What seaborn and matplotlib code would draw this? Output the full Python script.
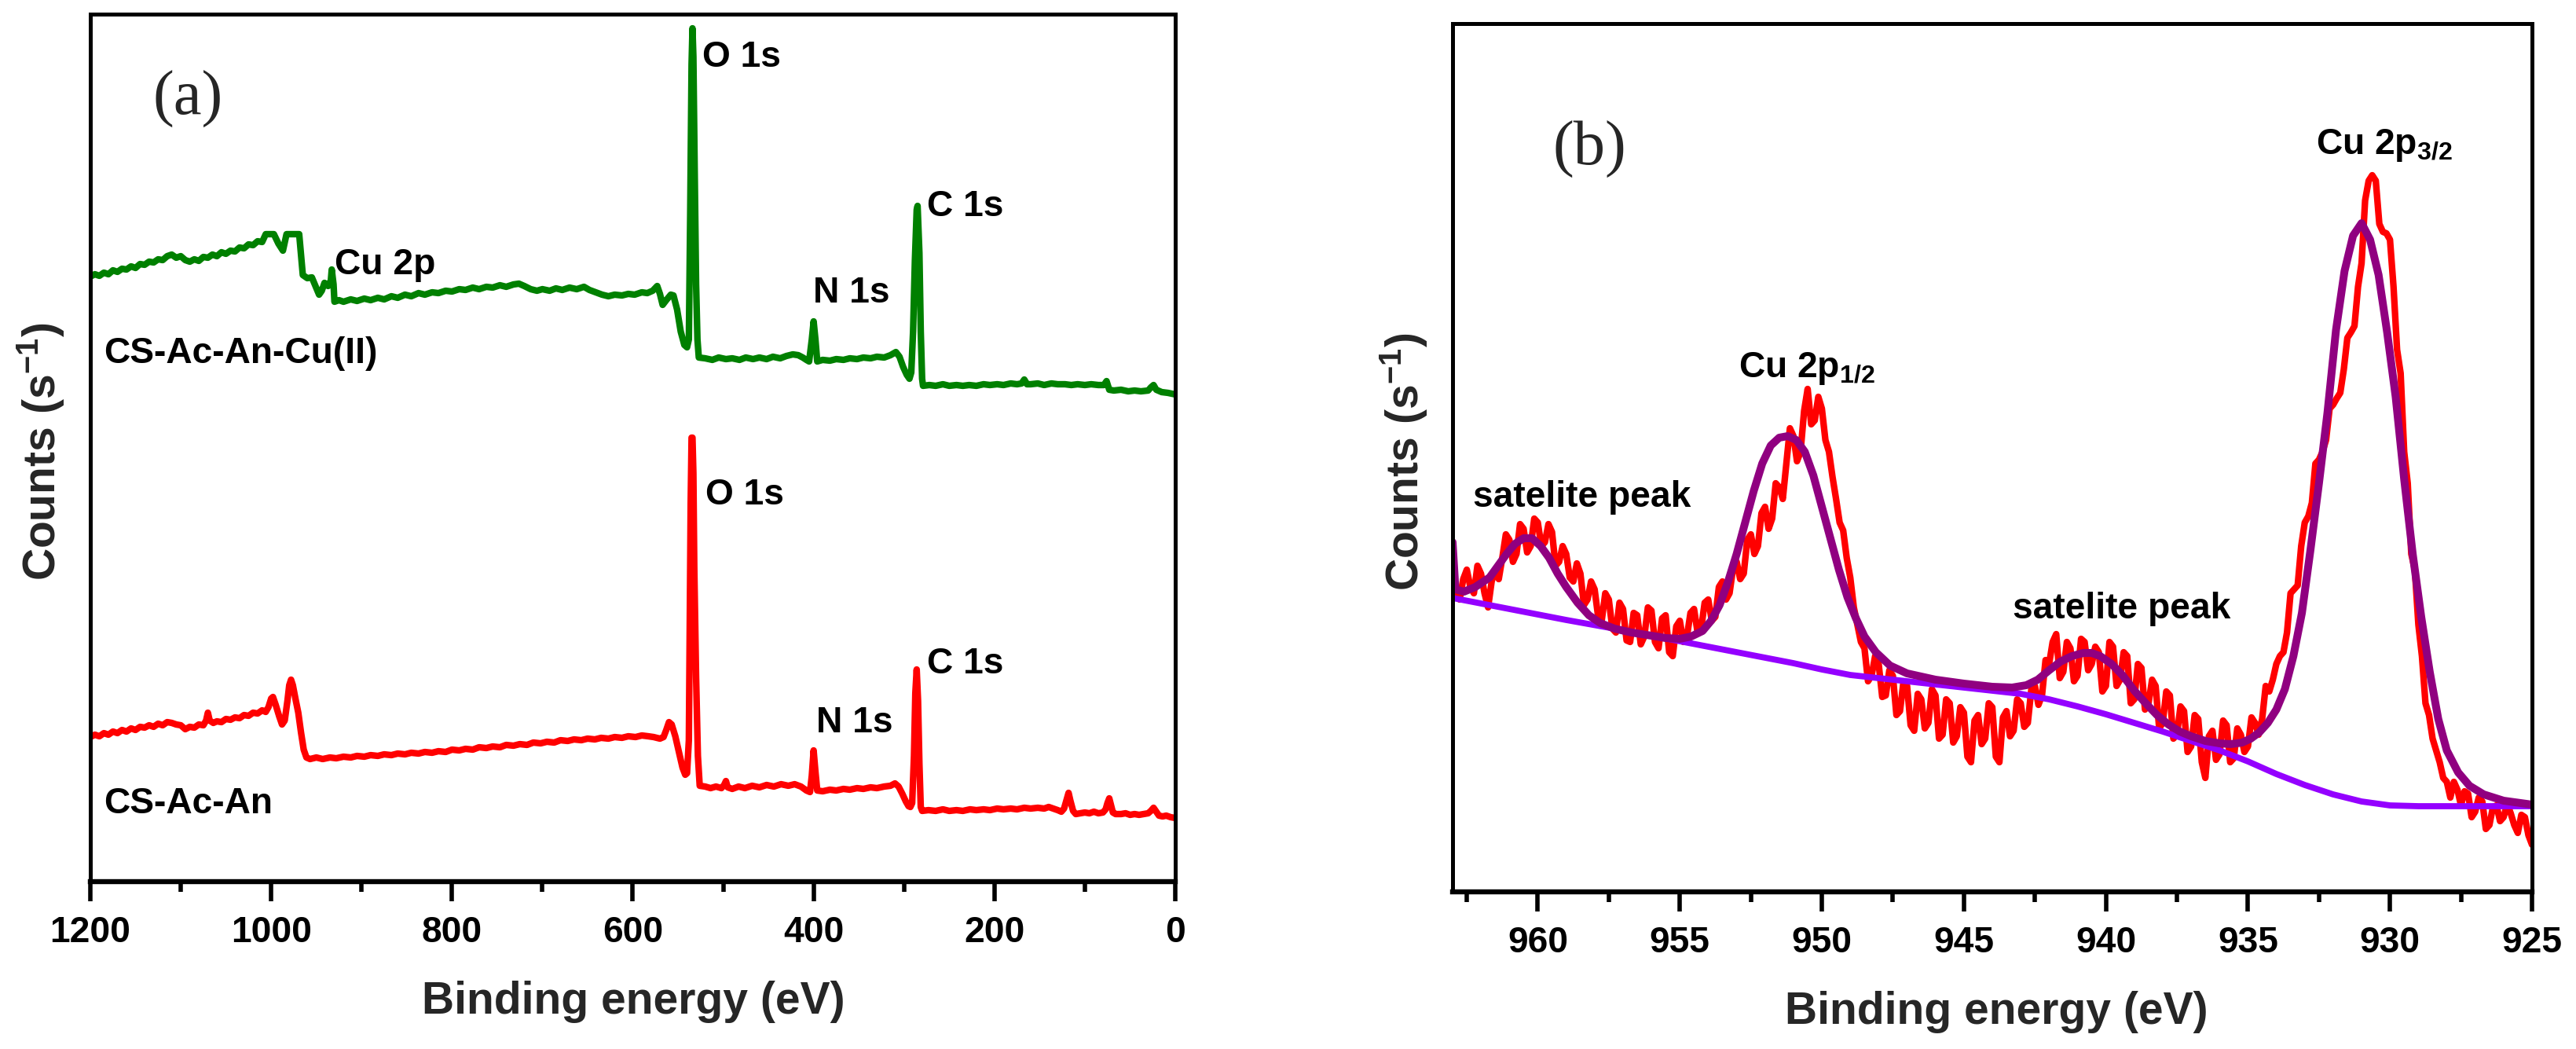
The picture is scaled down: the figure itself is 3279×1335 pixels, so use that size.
import matplotlib
matplotlib.use("Agg")
import matplotlib.pyplot as plt
import seaborn as sns
import pandas as pd
from matplotlib.ticker import FixedLocator, MultipleLocator

# ---------------- data ----------------
# Panel (a): survey spectra, (binding energy eV, counts in arbitrary units)
survey_cu = [
    (1200, 770), (1195, 773), (1190, 771), (1185, 775), (1180, 773), (1175, 778), (1170, 776), (1165, 780),
    (1160, 779), (1155, 783), (1150, 781), (1145, 786), (1140, 785), (1135, 789), (1130, 788), (1125, 792),
    (1120, 791), (1115, 796), (1110, 798), (1105, 794), (1100, 796), (1095, 791), (1090, 789), (1085, 792),
    (1080, 790), (1075, 795), (1070, 794), (1065, 798), (1060, 796), (1055, 801), (1050, 799), (1045, 803),
    (1040, 802), (1035, 807), (1030, 806), (1025, 811), (1020, 810), (1015, 815), (1010, 814), (1006, 824),
    (997, 824), (992, 812), (987, 803), (983, 824), (969, 824), (965, 772), (960, 768), (955, 769),
    (951, 758), (947, 747), (944, 752), (941, 762), (937, 758), (934, 765), (933, 779), (931, 760),
    (930, 738), (925, 740), (920, 738), (912, 741), (905, 739), (897, 742), (890, 740), (882, 743),
    (875, 741), (867, 745), (860, 743), (852, 747), (845, 745), (837, 749), (830, 747), (822, 750),
    (815, 749), (807, 752), (800, 751), (792, 754), (785, 753), (777, 756), (770, 754), (762, 757),
    (755, 756), (747, 759), (740, 757), (732, 760), (726, 761), (720, 758), (713, 754), (706, 752),
    (700, 754), (692, 752), (685, 755), (678, 753), (670, 756), (662, 754), (654, 757), (648, 753),
    (641, 750), (634, 747), (627, 745), (620, 747), (612, 746), (605, 748), (598, 747), (590, 750),
    (584, 749), (578, 752), (573, 758), (570, 748), (567, 734), (563, 740), (558, 747), (555, 746),
    (551, 728), (547, 700), (543, 683), (540, 680), (538, 690), (536.5, 850), (535, 1040), (534, 1086),
    (533, 1050), (531.5, 900), (530, 760), (528.5, 690), (527, 667), (520, 666), (512, 664), (505, 667),
    (497, 665), (490, 666), (482, 664), (475, 667), (467, 665), (460, 667), (452, 665), (445, 668),
    (437, 666), (430, 669), (423, 671), (417, 670), (412, 667), (408, 664), (405, 662), (402, 690),
    (400, 713), (398, 690), (396, 662), (390, 664), (382, 663), (375, 665), (367, 664), (360, 666),
    (352, 665), (345, 667), (337, 666), (330, 668), (322, 667), (315, 670), (309, 674), (305, 668),
    (301, 655), (297, 645), (294, 640), (292, 648), (290, 700), (288, 790), (286, 855), (285, 860),
    (283, 800), (281.5, 700), (280, 640), (279, 631), (272, 632), (265, 631), (257, 633), (250, 631),
    (242, 632), (235, 631), (228, 632), (220, 631), (212, 633), (205, 632), (197, 633), (190, 632),
    (182, 634), (175, 633), (170, 634), (167, 639), (164, 633), (160, 633), (152, 634), (145, 632),
    (137, 634), (130, 633), (122, 633), (115, 632), (108, 633), (100, 632), (93, 633), (85, 632),
    (79, 632), (76, 637), (73, 626), (68, 625), (60, 626), (52, 624), (45, 625), (38, 624),
    (30, 625), (27, 629), (24, 632), (21, 626), (15, 623), (8, 622), (0, 620),
]
survey_base = [
    (1200, 184), (1195, 187), (1190, 185), (1185, 189), (1180, 187), (1175, 191), (1170, 189), (1165, 193),
    (1160, 191), (1155, 195), (1150, 193), (1145, 197), (1140, 196), (1135, 199), (1130, 197), (1125, 201),
    (1120, 199), (1115, 203), (1110, 202), (1105, 200), (1100, 199), (1095, 194), (1090, 197), (1085, 196),
    (1080, 200), (1075, 199), (1072, 205), (1070, 215), (1068, 205), (1064, 202), (1060, 204), (1055, 203),
    (1050, 207), (1045, 206), (1040, 209), (1035, 208), (1030, 212), (1025, 211), (1020, 215), (1015, 214),
    (1010, 218), (1006, 216), (1003, 222), (1000, 233), (998, 235), (995, 225), (991, 210), (988, 200),
    (985, 205), (982, 230), (980, 250), (978, 257), (976, 250), (973, 232), (970, 215), (967, 190),
    (964, 168), (961, 158), (957, 156), (950, 158), (943, 156), (935, 158), (928, 157), (920, 159),
    (912, 158), (905, 160), (897, 159), (890, 161), (882, 160), (875, 162), (867, 161), (860, 163),
    (852, 162), (845, 164), (837, 163), (830, 165), (822, 164), (815, 166), (807, 165), (800, 168),
    (792, 167), (785, 169), (777, 168), (770, 171), (762, 170), (755, 172), (747, 171), (740, 174),
    (732, 173), (725, 175), (717, 174), (710, 177), (702, 176), (695, 178), (687, 177), (680, 180),
    (672, 179), (665, 181), (657, 180), (650, 182), (642, 181), (635, 183), (627, 182), (620, 184),
    (612, 183), (605, 185), (597, 184), (590, 186), (583, 185), (577, 184), (570, 182), (566, 184),
    (563, 193), (560, 203), (557, 200), (553, 185), (549, 165), (545, 145), (542, 136), (540, 138),
    (538, 180), (537, 330), (536, 480), (535, 565), (534, 565), (533, 520), (532, 400), (530, 260),
    (528, 160), (526, 122), (520, 121), (514, 119), (508, 121), (502, 119), (499, 123), (497, 128),
    (495, 120), (490, 118), (483, 121), (476, 119), (468, 122), (460, 120), (452, 123), (444, 121),
    (436, 124), (428, 122), (421, 124), (414, 121), (408, 116), (404, 114), (402, 135), (400, 167),
    (398, 140), (396, 116), (390, 115), (382, 117), (375, 116), (367, 118), (360, 117), (352, 119),
    (345, 118), (337, 120), (330, 119), (322, 121), (315, 122), (310, 125), (306, 121), (302, 112),
    (298, 102), (295, 96), (293, 95), (291, 100), (289, 160), (287.5, 240), (286, 270), (284.5, 230),
    (283, 150), (281.5, 95), (280, 90), (273, 91), (265, 90), (257, 92), (250, 90), (242, 91),
    (235, 90), (227, 92), (220, 91), (212, 92), (205, 91), (197, 93), (190, 92), (182, 93),
    (175, 92), (167, 94), (160, 93), (152, 94), (145, 93), (140, 95), (135, 93), (130, 91),
    (126, 89), (123, 93), (120, 105), (118, 113), (116, 103), (113, 90), (110, 86), (105, 87),
    (100, 88), (95, 87), (90, 89), (85, 87), (80, 88), (77, 92), (75, 100), (73, 106),
    (71, 97), (69, 88), (66, 86), (60, 86), (55, 87), (50, 85), (45, 86), (40, 85),
    (35, 86), (30, 87), (27, 90), (24, 94), (21, 89), (18, 84), (14, 83), (10, 84), (5, 82), (0, 81),
]

# Panel (b): Cu 2p high resolution, measured data, fit envelope and background
cu2p_data = [
    (963.0, 400), (962.875, 385), (962.75, 372), (962.625, 398), (962.5, 410), (962.375, 388),
    (962.25, 380), (962.125, 415), (962.0, 405), (961.875, 380), (961.75, 362), (961.625, 395),
    (961.5, 410), (961.375, 398), (961.25, 425), (961.125, 455), (961.0, 448), (960.875, 420),
    (960.75, 430), (960.625, 468), (960.5, 462), (960.375, 432), (960.25, 440), (960.125, 475),
    (960.0, 470), (959.875, 440), (959.75, 445), (959.625, 468), (959.5, 458), (959.375, 415),
    (959.25, 420), (959.125, 440), (959.0, 430), (958.875, 400), (958.75, 395), (958.625, 418),
    (958.5, 405), (958.375, 365), (958.25, 372), (958.125, 395), (958.0, 385), (957.875, 350),
    (957.75, 345), (957.625, 380), (957.5, 372), (957.375, 335), (957.25, 330), (957.125, 368),
    (957.0, 360), (956.875, 320), (956.75, 318), (956.625, 355), (956.5, 352), (956.375, 315),
    (956.25, 325), (956.125, 362), (956.0, 358), (955.875, 318), (955.75, 310), (955.625, 348),
    (955.5, 352), (955.375, 305), (955.25, 300), (955.125, 338), (955.0, 345), (954.875, 318),
    (954.75, 325), (954.625, 355), (954.5, 360), (954.375, 330), (954.25, 335), (954.125, 368),
    (954.0, 372), (953.875, 345), (953.75, 350), (953.625, 388), (953.5, 395), (953.375, 372),
    (953.25, 380), (953.125, 412), (953.0, 420), (952.875, 398), (952.75, 405), (952.625, 448),
    (952.5, 455), (952.375, 430), (952.25, 440), (952.125, 482), (952.0, 490), (951.875, 462),
    (951.75, 475), (951.625, 520), (951.5, 515), (951.375, 500), (951.25, 545), (951.125, 590),
    (951.0, 580), (950.875, 548), (950.75, 560), (950.625, 612), (950.5, 640), (950.375, 595),
    (950.25, 600), (950.125, 630), (950.0, 615), (949.875, 575), (949.75, 560), (949.625, 528),
    (949.5, 500), (949.375, 470), (949.25, 460), (949.125, 425), (949.0, 400), (948.875, 362),
    (948.75, 340), (948.625, 318), (948.5, 310), (948.375, 268), (948.25, 275), (948.125, 300),
    (948.0, 290), (947.875, 248), (947.75, 250), (947.625, 282), (947.5, 275), (947.375, 225),
    (947.25, 230), (947.125, 268), (947.0, 262), (946.875, 212), (946.75, 205), (946.625, 252),
    (946.5, 245), (946.375, 208), (946.25, 215), (946.125, 258), (946.0, 250), (945.875, 195),
    (945.75, 200), (945.625, 245), (945.5, 240), (945.375, 190), (945.25, 198), (945.125, 235),
    (945.0, 228), (944.875, 172), (944.75, 165), (944.625, 218), (944.5, 225), (944.375, 188),
    (944.25, 195), (944.125, 240), (944.0, 235), (943.875, 172), (943.75, 165), (943.625, 222),
    (943.5, 230), (943.375, 198), (943.25, 205), (943.125, 245), (943.0, 240), (942.875, 210),
    (942.75, 215), (942.625, 258), (942.5, 262), (942.375, 238), (942.25, 250), (942.125, 295),
    (942.0, 290), (941.875, 318), (941.75, 328), (941.625, 272), (941.5, 280), (941.375, 318),
    (941.25, 310), (941.125, 268), (941.0, 275), (940.875, 322), (940.75, 318), (940.625, 282),
    (940.5, 290), (940.375, 312), (940.25, 305), (940.125, 255), (940.0, 262), (939.875, 318),
    (939.75, 312), (939.625, 262), (939.5, 270), (939.375, 305), (939.25, 300), (939.125, 240),
    (939.0, 245), (938.875, 290), (938.75, 285), (938.625, 232), (938.5, 240), (938.375, 270),
    (938.25, 262), (938.125, 208), (938.0, 215), (937.875, 255), (937.75, 250), (937.625, 195),
    (937.5, 200), (937.375, 236), (937.25, 230), (937.125, 178), (937.0, 185), (936.875, 225),
    (936.75, 220), (936.625, 165), (936.5, 145), (936.375, 198), (936.25, 205), (936.125, 168),
    (936.0, 175), (935.875, 218), (935.75, 212), (935.625, 165), (935.5, 170), (935.375, 208),
    (935.25, 200), (935.125, 178), (935.0, 185), (934.875, 222), (934.75, 215), (934.625, 200),
    (934.5, 220), (934.375, 262), (934.25, 255), (934.125, 270), (934.0, 290), (933.875, 300),
    (933.75, 305), (933.625, 330), (933.5, 380), (933.375, 385), (933.25, 390), (933.125, 440),
    (933.0, 470), (932.875, 478), (932.75, 495), (932.625, 545), (932.5, 550), (932.375, 560),
    (932.25, 575), (932.125, 615), (932.0, 620), (931.875, 628), (931.75, 635), (931.625, 665),
    (931.5, 705), (931.375, 712), (931.25, 720), (931.125, 770), (931.0, 800), (930.875, 880),
    (930.75, 905), (930.625, 912), (930.5, 905), (930.375, 850), (930.25, 840), (930.125, 838),
    (930.0, 830), (929.875, 770), (929.75, 690), (929.625, 660), (929.5, 560), (929.375, 520),
    (929.25, 430), (929.125, 410), (929.0, 340), (928.875, 300), (928.75, 240), (928.625, 225),
    (928.5, 195), (928.375, 180), (928.25, 165), (928.125, 145), (928.0, 140), (927.875, 120),
    (927.75, 140), (927.625, 130), (927.5, 110), (927.375, 128), (927.25, 125), (927.125, 95),
    (927.0, 102), (926.875, 120), (926.75, 115), (926.625, 80), (926.5, 85), (926.375, 108),
    (926.25, 110), (926.125, 90), (926.0, 95), (925.875, 112), (925.75, 100), (925.625, 85),
    (925.5, 75), (925.375, 98), (925.25, 95), (925.125, 72), (925.0, 60),
]
cu2p_envelope = [
    (963.0, 445), (962.9, 385), (962.6, 382), (962.2, 388), (961.7, 400), (961.4, 415), (961.1, 430),
    (960.8, 443), (960.5, 450), (960.2, 450), (959.9, 440), (959.6, 425), (959.3, 405), (959.0, 388),
    (958.6, 368), (958.2, 352), (957.8, 342), (957.3, 335), (956.7, 330), (956.0, 326), (955.5, 323),
    (955.0, 322), (954.6, 325), (954.2, 332), (953.9, 345), (953.6, 365), (953.3, 395), (953.0, 430),
    (952.7, 470), (952.4, 510), (952.1, 545), (951.8, 568), (951.5, 578), (951.2, 580), (950.9, 575),
    (950.6, 560), (950.3, 530), (950.0, 490), (949.7, 450), (949.4, 410), (949.1, 375), (948.8, 348),
    (948.5, 325), (948.1, 305), (947.6, 288), (947.0, 278), (946.0, 270), (945.0, 265), (944.0, 261),
    (943.3, 260), (942.8, 263), (942.4, 270), (942.0, 282), (941.6, 293), (941.2, 300), (940.8, 304),
    (940.5, 304), (940.2, 300), (939.8, 290), (939.4, 275), (939.0, 256), (938.6, 240), (938.2, 225),
    (937.8, 213), (937.4, 204), (937.0, 198), (936.5, 192), (936.0, 189), (935.6, 188), (935.2, 190),
    (934.9, 195), (934.6, 203), (934.3, 215), (934.0, 232), (933.7, 258), (933.4, 300), (933.1, 355),
    (932.8, 435), (932.5, 520), (932.2, 610), (931.9, 715), (931.6, 790), (931.3, 835), (931.0, 851),
    (930.7, 830), (930.4, 785), (930.1, 712), (929.8, 630), (929.5, 525), (929.2, 430), (928.9, 350),
    (928.6, 280), (928.3, 220), (928.0, 180), (927.6, 152), (927.2, 135), (926.7, 124), (926.0, 116),
    (925.0, 111),
]
cu2p_background = [
    (963.0, 374), (961.0, 360), (959.0, 346), (957.0, 333), (955.0, 319), (953.0, 305), (951.0, 291),
    (950.0, 283), (949.0, 276), (948.0, 272), (947.0, 268), (946.0, 264), (945.0, 260), (944.0, 256),
    (943.0, 252), (942.0, 245), (941.0, 236), (940.0, 226), (939.0, 215), (938.0, 204), (937.0, 192),
    (936.0, 180), (935.0, 166), (934.0, 150), (933.0, 136), (932.0, 124), (931.0, 115), (930.0, 110),
    (929.0, 109), (925.0, 109),
]

survey_ticks = [1200, 1000, 800, 600, 400, 200, 0]
cu2p_ticks = [960, 955, 950, 945, 940, 935, 930, 925]
series_names = ["CS-Ac-An-Cu(II)", "CS-Ac-An"]


def frame(pts):
    return pd.DataFrame(pts, columns=["ev", "counts"])


# ---------------- style ----------------
sns.set_style("ticks")
plt.rcParams.update({
    "font.weight": "bold",
    "mathtext.fontset": "custom",
    "mathtext.rm": "Liberation Sans:bold",
    "mathtext.it": "Liberation Sans:bold",
    "mathtext.bf": "Liberation Sans:bold",
    "axes.unicode_minus": False,
})
plt.rcParams["font.family"] = ["Liberation Sans", "DejaVu Sans"]

W, H = 3280, 1335
DPI = 200
fig = plt.figure(figsize=(W / DPI, H / DPI), dpi=DPI)
fig.patch.set_facecolor("white")

axA = fig.add_axes([115 / W, 1 - 1122 / H, 1381 / W, 1104 / H])
axB = fig.add_axes([1849 / W, 1 - 1135 / H, 1374 / W, 1105 / H])

LBL = 16.6   # annotation / tick font size
AXL = 20.5   # axis title size

# ---- panel (a)
sns.lineplot(data=frame(survey_cu), x="ev", y="counts", ax=axA, color="#008000", lw=3.0,
             sort=False, estimator=None)
sns.lineplot(data=frame(survey_base), x="ev", y="counts", ax=axA, color="#FF0000", lw=3.0,
             sort=False, estimator=None)
axA.set_xlim(1200, 0)
axA.set_ylim(0, 1104)
axA.xaxis.set_major_locator(FixedLocator(survey_ticks))
axA.xaxis.set_minor_locator(MultipleLocator(100))
axA.set_xticklabels([str(t) for t in survey_ticks])

txt = dict(fontsize=LBL, fontweight="bold", ha="left", va="baseline", color="black")
axA.text(523, 1037, "O 1s", **txt)
axA.text(275, 847, "C 1s", **txt)
axA.text(401, 737, "N 1s", **txt)
axA.text(930, 773, "Cu 2p", **txt)
axA.text(1185, 660, series_names[0], **txt)
axA.text(520, 480, "O 1s", **txt)
axA.text(397, 190, "N 1s", **txt)
axA.text(275, 265, "C 1s", **txt)
axA.text(1185, 87, series_names[1], **txt)
axA.text(1092, 996, "(a)", fontsize=29, fontweight="normal", family="Liberation Serif",
         ha="center", va="center")

# ---- panel (b)
sns.lineplot(data=frame(cu2p_data), x="ev", y="counts", ax=axB, color="#FF0000", lw=3.0,
             sort=False, estimator=None)
sns.lineplot(data=frame(cu2p_background), x="ev", y="counts", ax=axB, color="#9400FF", lw=2.8,
             sort=False, estimator=None)
sns.lineplot(data=frame(cu2p_envelope), x="ev", y="counts", ax=axB, color="#900080", lw=3.6,
             sort=False, estimator=None)
axB.set_xlim(963.0, 925.0)
axB.set_ylim(0, 1105)
axB.xaxis.set_major_locator(FixedLocator(cu2p_ticks))
axB.xaxis.set_minor_locator(MultipleLocator(2.5))
axB.set_xticklabels([str(t) for t in cu2p_ticks])

axB.text(962.28, 490, "satelite peak", **txt)
axB.text(943.28, 348, "satelite peak", **txt)
axB.text(952.93, 655, r"Cu 2p$_{1/2}$", **txt)
axB.text(932.61, 939, r"Cu 2p$_{3/2}$", **txt)
axB.text(958.19, 945, "(b)", fontsize=29, fontweight="normal", family="Liberation Serif",
         ha="center", va="center")

for ax in (axA, axB):
    ax.set_xlabel("")
    ax.set_ylabel("")
    ax.set_yticks([])
    for side in ("left", "right", "top"):
        ax.spines[side].set_visible(True)
        ax.spines[side].set_linewidth(1.8)
        ax.spines[side].set_color("black")
    ax.spines["bottom"].set_linewidth(2.3)
    ax.spines["bottom"].set_color("black")
    ax.tick_params(axis="x", which="major", direction="out", length=9, width=2.0,
                   pad=6.5, labelsize=LBL, colors="black")
    ax.tick_params(axis="x", which="minor", direction="out", length=4.7, width=2.0,
                   colors="black")
    for lab in ax.get_xticklabels():
        lab.set_fontweight("bold")
    ax.set_facecolor("white")

# axis titles (placed at the reference pixel positions)
fig.text(806 / W, 1 - 1290 / H, "Binding energy (eV)", fontsize=AXL, fontweight="bold",
         ha="center", va="baseline")
fig.text(2541 / W, 1 - 1303 / H, "Binding energy (eV)", fontsize=AXL, fontweight="bold",
         ha="center", va="baseline")
fig.text(52 / W, 1 - 575 / H, r"Counts (s$^{-1}$)", fontsize=AXL, fontweight="bold",
         rotation=90, ha="center", va="center")
fig.text(1787 / W, 1 - 588 / H, r"Counts (s$^{-1}$)", fontsize=AXL, fontweight="bold",
         rotation=90, ha="center", va="center")

fig.savefig("out.png", dpi=DPI, facecolor="white")
